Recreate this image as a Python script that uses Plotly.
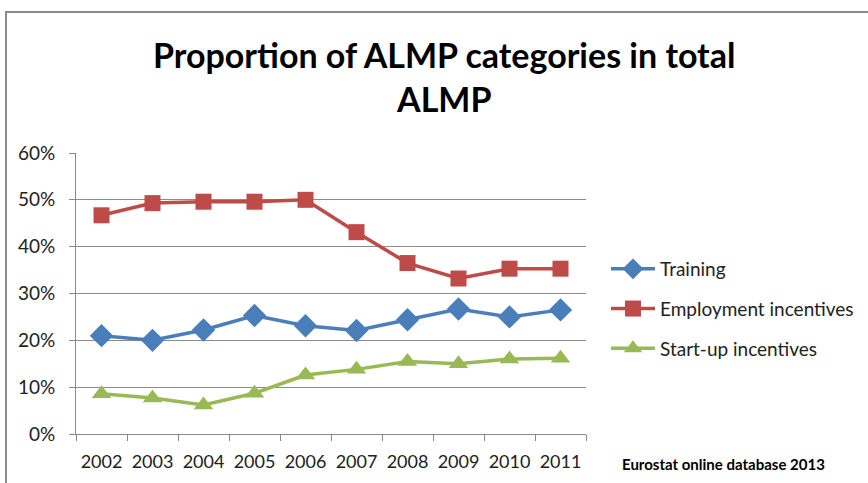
import plotly.graph_objects as go

years = ["2002", "2003", "2004", "2005", "2006", "2007", "2008", "2009", "2010", "2011"]
training = [21.0, 20.0, 22.2, 25.3, 23.1, 22.1, 24.4, 26.7, 25.0, 26.5]
employment = [46.7, 49.3, 49.6, 49.6, 50.0, 43.1, 36.5, 33.2, 35.3, 35.3]
startup = [8.6, 7.7, 6.2, 8.7, 12.6, 13.8, 15.5, 15.0, 16.0, 16.2]
y_ticks = [0, 10, 20, 30, 40, 50, 60]
y_labels = ["0%", "10%", "20%", "30%", "40%", "50%", "60%"]

FONT = "Lato, Open Sans, sans-serif"

fig = go.Figure()
fig.add_trace(go.Scatter(x=years, y=training, name="Training", mode="lines+markers",
                         legendgroup="a",
                         line=dict(color="#4A7EBB", width=3.5),
                         marker=dict(symbol="diamond", size=18, color="#4A7EBB")))
fig.add_trace(go.Scatter(x=years, y=employment, name="Employment incentives", mode="lines+markers",
                         legendgroup="b",
                         line=dict(color="#BE4B48", width=3.5),
                         marker=dict(symbol="square", size=16, color="#BE4B48")))
fig.add_trace(go.Scatter(x=years, y=startup, name="Start-up incentives", mode="lines+markers",
                         legendgroup="c",
                         line=dict(color="#98B954", width=3.5),
                         marker=dict(symbol="triangle-up", size=17, color="#98B954")))

L, R, T, B = 76, 282, 153, 49
W, H = 868, 483
pw, ph = W - L - R, H - T - B

def px(x):
    return (x - L) / pw

def py(y):
    return (H - B - y) / ph

fig.update_layout(
    width=W, height=H,
    margin=dict(l=L, r=R, t=T, b=B, autoexpand=False),
    paper_bgcolor="white", plot_bgcolor="white",
    font=dict(family=FONT, color="#222222"),
    showlegend=True,
    legend=dict(x=px(606), y=py(250), xanchor="left", yanchor="top",
                font=dict(size=19, family=FONT, color="#222222"),
                tracegroupgap=12, itemwidth=44, bgcolor="rgba(0,0,0,0)"),
    xaxis=dict(type="category", showgrid=False, showline=True, linecolor="#888888", linewidth=1,
               ticks="outside", ticklen=6, tickcolor="#888888", tickson="boundaries",
               ticklabelstandoff=11, tickangle=0, automargin=False,
               tickfont=dict(size=18, family=FONT, color="#222222"), range=[-0.5, 9.5]),
    yaxis=dict(range=[0, 60], tickvals=y_ticks, ticktext=y_labels, showgrid=True,
               gridcolor="#8C8C8C", gridwidth=1, showline=True, linecolor="#888888",
               ticks="outside", ticklen=6, tickcolor="#888888", zeroline=False,
               ticklabelstandoff=10, automargin=False,
               tickfont=dict(size=19, family=FONT, color="#222222")),
    shapes=[dict(type="rect", xref="paper", yref="paper",
                 x0=px(6), x1=px(900), y0=py(12), y1=py(520),
                 line=dict(color="#8A8A8A", width=2), fillcolor="rgba(0,0,0,0)", layer="below")],
    annotations=[
        dict(text="<b>Proportion of ALMP categories in total<br>ALMP</b>", xref="paper", yref="paper",
             x=px(444), y=py(76), xanchor="center", yanchor="middle", showarrow=False,
             font=dict(size=34, family=FONT, color="#000000")),
        dict(text="<b>Eurostat online database 2013</b>", xref="paper", yref="paper",
             x=px(620), y=py(464), xanchor="left", yanchor="middle", showarrow=False,
             font=dict(size=15, family=FONT, color="#000000")),
    ],
)

fig.write_html("out.html", config={"displayModeBar": False},
               post_script="document.body.style.margin='0';document.body.style.padding='0';")
